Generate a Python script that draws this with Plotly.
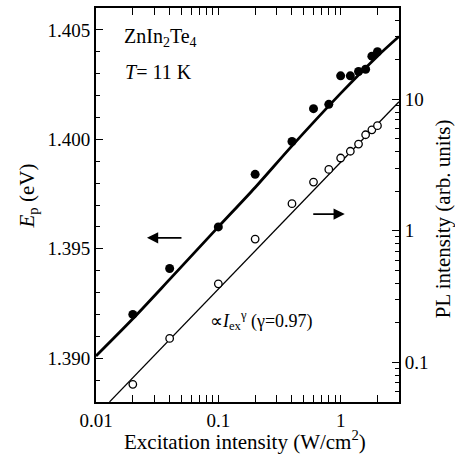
import math
import plotly.graph_objects as go

# Data
x_pts = [0.02, 0.04, 0.1, 0.2, 0.4, 0.6, 0.8, 1.0, 1.2, 1.4, 1.6, 1.8, 2.0]
ep_vals = [1.3920, 1.3941, 1.3960, 1.3984, 1.3999, 1.4014, 1.4016,
           1.4029, 1.4029, 1.4031, 1.4032, 1.4038, 1.4040]
pl_vals = [0.068, 0.152, 0.395, 0.865, 1.61, 2.35, 2.93,
           3.58, 4.03, 4.57, 5.38, 5.87, 6.31]

# Guide curve for Ep
ep_fit_x = [0.01, 0.02, 0.04, 0.1, 0.2, 0.4, 1.0, 2.0, 3.0]
ep_fit_y = [1.3901, 1.3918, 1.3936, 1.3960, 1.3978, 1.3997, 1.4021, 1.4038, 1.4047]

# Power-law line for PL intensity (endpoints)
pl_fit_x = [0.0129, 3.0]
pl_fit_y = [0.05, 9.6]

x_ticks = [0.01, 0.1, 1]
x_ticktext = ["0.01", "0.1", "1"]
ep_ticks = [1.390, 1.395, 1.400, 1.405]
ep_ticktext = ["1.390", "1.395", "1.400", "1.405"]
pl_ticks = [0.1, 1, 10]
pl_ticktext = ["0.1", "1", "10"]

FONT = "Liberation Serif, Times New Roman, Times, serif"

fig = go.Figure()
fig.add_trace(go.Scatter(x=ep_fit_x, y=ep_fit_y, mode="lines",
                         line=dict(color="black", width=2.8, shape="spline", smoothing=0.8),
                         yaxis="y", showlegend=False, hoverinfo="skip"))
fig.add_trace(go.Scatter(x=x_pts, y=ep_vals, mode="markers",
                         marker=dict(color="black", size=9, line=dict(width=0)),
                         yaxis="y", showlegend=False))
fig.add_trace(go.Scatter(x=pl_fit_x, y=pl_fit_y, mode="lines", line=dict(color="black", width=1.3),
                         yaxis="y2", showlegend=False, hoverinfo="skip"))
fig.add_trace(go.Scatter(x=x_pts, y=pl_vals, mode="markers",
                         marker=dict(color="white", size=7.5, line=dict(color="black", width=1.3)),
                         yaxis="y2", showlegend=False))

x_minor = [v * d for d in (0.01, 0.1) for v in range(2, 10)] + [2, 3]
pl_minor = [v * d for d in (0.01, 0.1, 1, 10) for v in range(2, 10)]
ep_minor = [round(1.388 + 0.001 * i, 3) for i in range(19)]

tickfont = dict(family=FONT, size=19, color="black")
fig.update_layout(
    width=455, height=462,
    margin=dict(l=96, r=56, t=6, b=60),
    paper_bgcolor="white", plot_bgcolor="white",
    font=dict(family=FONT, color="black"),
    xaxis=dict(type="log", range=[-2, 0.477], tickvals=x_ticks, ticktext=x_ticktext,
               ticks="inside", ticklen=7, tickwidth=1.3, tickcolor="black",
               showline=True, linecolor="black", linewidth=2, mirror="allticks",
               showgrid=False, zeroline=False, tickfont=tickfont,
               minor=dict(tickvals=x_minor, ticks="inside", ticklen=4, tickwidth=1.2, tickcolor="black", showgrid=False)),
    yaxis=dict(range=[1.388, 1.406], tickvals=ep_ticks, ticktext=ep_ticktext,
               ticks="inside", ticklen=7, tickwidth=1.3, tickcolor="black",
               showline=True, linecolor="black", linewidth=2,
               showgrid=False, zeroline=False, tickfont=tickfont,
               minor=dict(tickvals=ep_minor, ticks="inside", ticklen=4, tickwidth=1.2, tickcolor="black", showgrid=False)),
    yaxis2=dict(type="log", range=[-1.302, 1.695], overlaying="y", side="right",
                tickvals=pl_ticks, ticktext=pl_ticktext,
                ticks="inside", ticklen=7, tickwidth=1.3, tickcolor="black",
                showline=True, linecolor="black", linewidth=2,
                showgrid=False, zeroline=False, tickfont=tickfont,
                minor=dict(tickvals=pl_minor, ticks="inside", ticklen=4, tickwidth=1.2, tickcolor="black", showgrid=False)),
)

ann = []
ann.append(dict(text="Excitation intensity (W/cm<sup>2</sup>)", x=0.4917, y=-0.098, xref="paper", yref="paper",
                showarrow=False, font=dict(family=FONT, size=21), xanchor="center", yanchor="middle"))
ann.append(dict(text="<i>E</i><sub>p</sub> (eV)", x=-0.226, y=0.523, xref="paper", yref="paper", textangle=-90,
                showarrow=False, font=dict(family=FONT, size=21), xanchor="center", yanchor="middle"))
ann.append(dict(text="PL intensity (arb. units)", x=1.148, y=0.466, xref="paper", yref="paper", textangle=-90,
                showarrow=False, font=dict(family=FONT, size=21), xanchor="center", yanchor="middle"))
ann.append(dict(text="ZnIn<sub>2</sub>Te<sub>4</sub>", x=0.2145, y=0.924, xref="paper", yref="paper",
                showarrow=False, font=dict(family=FONT, size=20), xanchor="center", yanchor="middle"))
ann.append(dict(text="<i>T</i>= 11 K", x=0.205, y=0.838, xref="paper", yref="paper",
                showarrow=False, font=dict(family=FONT, size=20), xanchor="center", yanchor="middle"))
ann.append(dict(text="\u221d<i>I</i><sub>ex</sub><sup>\u03b3</sup> (\u03b3=0.97)", x=0.37, y=0.207, xref="paper", yref="paper",
                showarrow=False, font=dict(family=FONT, size=18), xanchor="left", yanchor="middle"))
# arrows indicating which axis each series uses (log axes take log10 positions)
ann.append(dict(text="", x=math.log10(0.0261), y=1.3955, xref="x", yref="y", ax=36, ay=0,
                showarrow=True, arrowhead=2, arrowsize=1.4, arrowwidth=1.6, arrowcolor="black"))
ann.append(dict(text="", x=math.log10(1.08), y=math.log10(1.34), xref="x", yref="y2", ax=-33, ay=0,
                showarrow=True, arrowhead=2, arrowsize=1.4, arrowwidth=1.6, arrowcolor="black"))
fig.update_layout(annotations=ann)

fig.write_html("out.html")
